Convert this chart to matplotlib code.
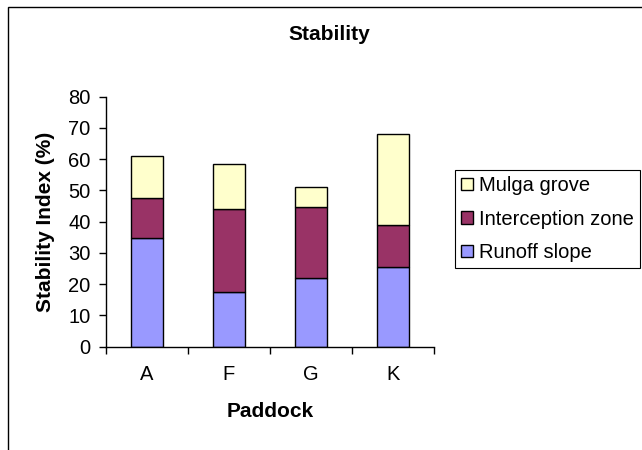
import matplotlib.pyplot as plt
from matplotlib.patches import Rectangle

plt.rcParams['font.family'] = ['Liberation Sans', 'DejaVu Sans']

paddocks = ['A', 'F', 'G', 'K']
runoff_slope = [34.9, 17.5, 22.1, 25.6]
interception_zone = [12.8, 26.7, 22.5, 13.3]
mulga_grove = [13.2, 14.3, 6.6, 29.3]
y_ticks = [0, 10, 20, 30, 40, 50, 60, 70, 80]

fig = plt.figure(figsize=(6.42, 4.5), dpi=100)
ax = fig.add_axes([0.1647, 0.2296, 0.5113, 0.5556])

x = list(range(len(paddocks)))
width = 0.39
bottom2 = [a + b for a, b in zip(runoff_slope, interception_zone)]
b1 = ax.bar(x, runoff_slope, width, color='#9999FF', edgecolor='black', linewidth=1, label='Runoff slope')
b2 = ax.bar(x, interception_zone, width, bottom=runoff_slope, color='#993366', edgecolor='black',
            linewidth=1, label='Interception zone')
b3 = ax.bar(x, mulga_grove, width, bottom=bottom2, color='#FFFFCC', edgecolor='black', linewidth=1,
            label='Mulga grove')

ax.set_xlim(-0.5, len(paddocks) - 0.5)
ax.set_ylim(0, 80)
ax.set_yticks(y_ticks)
ax.set_xticks([i - 0.5 for i in range(len(paddocks) + 1)])
ax.set_xticklabels([])
ax.set_xticks(x, minor=True)
ax.set_xticklabels(paddocks, minor=True)
ax.tick_params(axis='x', which='minor', length=0, pad=13, labelsize=14.5)
ax.tick_params(axis='x', which='major', direction='out', length=5, width=1)
ax.tick_params(axis='y', direction='out', length=5, width=1, labelsize=14.5, pad=6)

for side in ['top', 'right']:
    ax.spines[side].set_visible(False)
for side in ['left', 'bottom']:
    ax.spines[side].set_linewidth(1)

ax.set_xlabel('Paddock', fontsize=15, fontweight='bold', va='center')
ax.xaxis.set_label_coords(0.5, -0.258)
ax.set_ylabel('Stability Index (%)', fontsize=15, fontweight='bold', va='center')
ax.yaxis.set_label_coords(-0.185, 0.5)
fig.text(0.513, 0.924, 'Stability', ha='center', va='center', fontsize=15, fontweight='bold')

leg = fig.legend([b3, b2, b1], ['Mulga grove', 'Interception zone', 'Runoff slope'],
                 loc='upper left', bbox_to_anchor=(0.709, 0.622), fontsize=14.5, frameon=True,
                 fancybox=False, edgecolor='black', framealpha=1, handlelength=0.6,
                 handleheight=0.6, handletextpad=0.3, borderpad=0.3, labelspacing=0.72,
                 borderaxespad=0)
leg.get_frame().set_linewidth(0.8)

fig.patches.append(Rectangle((8 / 642, -0.1), 1.2, 1 - 7 / 450 + 0.1, transform=fig.transFigure,
                             fill=False, edgecolor='black', linewidth=1))

fig.savefig('out.png', dpi=100)
